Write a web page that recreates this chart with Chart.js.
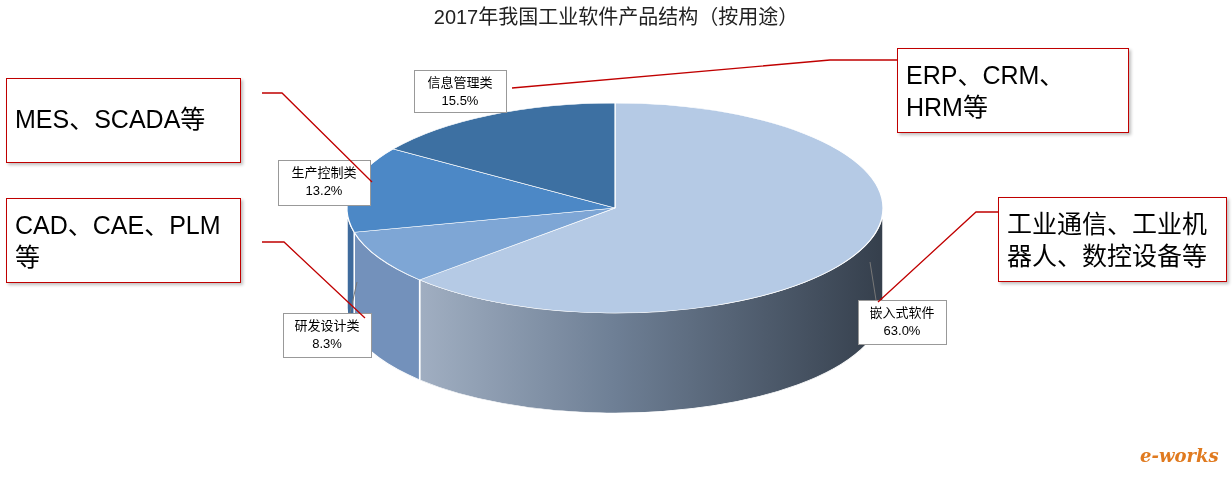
<!DOCTYPE html>
<html><head><meta charset="utf-8">
<script src="https://cdn.jsdelivr.net/npm/chart.js@4"></script>
<style>
body{margin:0;background:#fff;font-family:"Liberation Sans","Noto Sans CJK SC",sans-serif;}
#wrap{position:relative;width:1232px;height:482px;}
canvas{position:absolute;left:0;top:0;}
.call{position:absolute;border:1.5px solid #c00000;background:#fff;font-size:25px;line-height:32px;color:#000;padding:10px 8px;box-sizing:border-box;box-shadow:2px 2px 3px rgba(0,0,0,.25);font-family:"Liberation Sans","Noto Sans CJK SC",sans-serif;}
svg{position:absolute;left:0;top:0;}
</style></head><body>
<div id="wrap">
<canvas id="c" width="1232" height="482"></canvas>
<svg width="1232" height="482">
<g stroke="#c00000" stroke-width="1.3" fill="none">
<polyline points="897,60 830,60 512,88"/>
<polyline points="262,93 282,93 372,182"/>
<polyline points="262,242 284,242 365,318"/>
<polyline points="998,212 976,212 878,302"/>
</g></svg>
<div class="call" style="left:6px;top:78px;width:235px;height:85px;padding-top:24px">MES、SCADA等</div>
<div class="call" style="left:6px;top:198px;width:235px;height:85px">CAD、CAE、PLM等</div>
<div class="call" style="left:897px;top:48px;width:232px;height:85px">ERP、CRM、HRM等</div>
<div class="call" style="left:998px;top:197px;width:229px;height:85px">工业通信、工业机器人、数控设备等</div>
<div style="position:absolute;left:1140px;top:445px;color:#e07a1f;font-style:italic;font-weight:bold;font-size:18px;font-family:'DejaVu Serif',serif">e-works</div>
</div>
<script>
const categories=["嵌入式软件","研发设计类","生产控制类","信息管理类"];
const values=[63.0,8.3,13.2,15.5];
const colors=["#b5cae5","#7ea6d5","#4c88c6","#3d70a2"];
const sideColors=[null,"#7391bb","#3e6a9c","#2e5580"];
const labelBoxes=[[858,300,88,44],[283,313,88,44],[278,160,92,45],[414,70,92,42]];
const leaders=[[876,300,870,262],[350,313,357,282]];
const CX=615,CY=208,RX=268,RY=105,DEPTH=100;
function xf(ctx,el){const R=el.outerRadius;ctx.translate(CX,CY);ctx.scale(RX/R,RY/R);ctx.translate(-el.x,-el.y);}
const pie3d={id:'pie3d',
beforeDatasetsDraw(chart){
 const ctx=chart.ctx,meta=chart.getDatasetMeta(0);
 meta.data.forEach((el,i)=>{
  const a0=Math.max(el.startAngle,0),a1=Math.min(el.endAngle,Math.PI);
  if(a1<=a0)return;
  ctx.save();xf(ctx,el);
  const R=el.outerRadius,D=DEPTH*R/RY;
  ctx.beginPath();ctx.arc(el.x,el.y,R,a0,a1);ctx.arc(el.x,el.y+D,R,a1,a0,true);ctx.closePath();
  if(i===0){const g=ctx.createLinearGradient(el.x-R,0,el.x+R,0);
   g.addColorStop(0,"#b3c0d2");g.addColorStop(0.5,"#6e7f95");g.addColorStop(1,"#353f4c");ctx.fillStyle=g;}
  else ctx.fillStyle=sideColors[i];
  ctx.fill();ctx.strokeStyle="#fff";ctx.lineWidth=1.5*R/RX;ctx.stroke();
  ctx.restore();
 });
 const el=meta.data[0];ctx.save();xf(ctx,el);
},
afterDatasetsDraw(chart){
 const ctx=chart.ctx;ctx.restore();
 ctx.save();
 ctx.strokeStyle="#777";ctx.lineWidth=1;
 leaders.forEach(l=>{ctx.beginPath();ctx.moveTo(l[0],l[1]);ctx.lineTo(l[2],l[3]);ctx.stroke();});
 ctx.font='13px "Liberation Sans","Noto Sans CJK SC",sans-serif';ctx.textAlign='center';ctx.textBaseline='middle';
 labelBoxes.forEach((b,i)=>{
  ctx.fillStyle="#fff";ctx.fillRect(b[0],b[1],b[2],b[3]);
  ctx.strokeStyle="#999";ctx.strokeRect(b[0]+.5,b[1]+.5,b[2],b[3]);
  ctx.fillStyle="#000";
  ctx.fillText(categories[i],b[0]+b[2]/2,b[1]+13);
  ctx.fillText(values[i].toFixed(1)+"%",b[0]+b[2]/2,b[1]+31);
 });
 ctx.restore();
}};
new Chart(document.getElementById('c'),{type:'pie',
data:{labels:categories,datasets:[{data:values,backgroundColor:colors,borderColor:"#fff",borderWidth:1}]},
options:{responsive:false,animation:false,devicePixelRatio:1,layout:{padding:0},
 plugins:{legend:{display:false},tooltip:{enabled:false},
 title:{display:true,text:"2017年我国工业软件产品结构（按用途）",color:"#222",font:{size:20,weight:'normal',family:'"Liberation Sans","Noto Sans CJK SC",sans-serif'},padding:{top:6,bottom:0}}}},
plugins:[pie3d]});
</script>
</body></html>
